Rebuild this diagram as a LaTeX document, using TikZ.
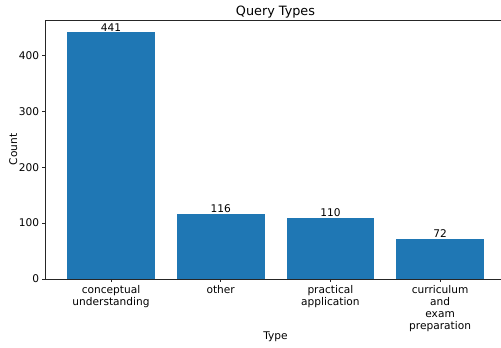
\documentclass[tikz,border=0pt]{standalone}
\usepackage{fontspec}
\setmainfont{DejaVu Sans}
\begin{document}
\begin{tikzpicture}[x=1pt,y=1pt,
  bar/.style={fill=barblue, draw=none},
  ticklbl/.style={font=\fontsize{10.6}{12}\selectfont, inner sep=0pt, text=black},
  xlbl/.style={ticklbl, align=center, anchor=north},
  vallbl/.style={ticklbl, anchor=south},
  spine/.style={draw=black!85, line width=0.8pt},
  tick/.style={draw=black!85, line width=0.7pt}]
\definecolor{barblue}{HTML}{1F77B4}
\useasboundingbox (0,0) rectangle (501,348);
\clip (0,0) rectangle (501,348);
% data frame: origin of the value axis at y=69, 0.559pt per count
\begin{scope}[shift={(0,69)}, y=0.559pt]
  % bars
  \fill[bar] (67.1,0) rectangle (154.9,441);
  \fill[bar] (176.8,0) rectangle (264.6,116);
  \fill[bar] (286.5,0) rectangle (374.3,110);
  \fill[bar] (396.2,0) rectangle (484.0,72);
  % value labels
  \node[vallbl] (v1) at (111.0,443) {441};
  \node[vallbl] (v2) at (220.7,118) {116};
  \node[vallbl] (v3) at (330.4,112) {110};
  \node[vallbl] (v4) at (440.1,74) {72};
  % axes frame
  \draw[spine] (45.2,463.3) -- (45.2,0) -- (505.9,0) -- (505.9,463.3) -- cycle;
  % y ticks
  \foreach \v in {0,100,200,300,400} {
    \draw[tick] (45.2,\v) -- ++(-3.5pt,0);
    \node[ticklbl, anchor=east] (y\v) at (39.2,\v) {\v};
  }
  % x ticks
  \foreach \c in {111.0,220.7,330.4,440.1} {
    \draw[tick] (\c,0) -- ++(0,-3.5pt);
  }
  \node[xlbl] (x1) at (111.0,-11.5) {conceptual\\understanding};
  \node[xlbl] (x2) at (220.7,-11.5) {other};
  \node[xlbl] (x3) at (330.4,-11.5) {practical\\application};
  \node[xlbl] (x4) at (440.1,-11.5) {curriculum\\and\\exam\\preparation};
\end{scope}
% titles
\node[ticklbl, font=\fontsize{12.8}{14}\selectfont] (title) at (275.5,335.5) {Query Types};
\node[ticklbl] (xt) at (275.5,11.3) {Type};
\node[ticklbl, rotate=90] (yt) at (13.3,198.5) {Count};
\end{tikzpicture}
\end{document}
